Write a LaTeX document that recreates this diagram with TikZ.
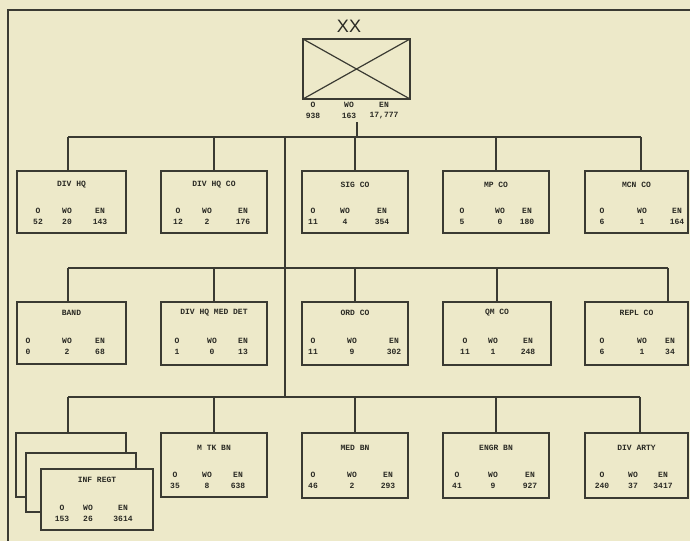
\documentclass[tikz,border=0pt]{standalone}
\usepackage{fontspec}
\setmonofont{Liberation Mono}
\newfontfamily\xxfont{Liberation Sans}
\usetikzlibrary{calc}
\definecolor{paper}{HTML}{EDE9C9}
\definecolor{ink}{HTML}{3A3A32}
\definecolor{txt}{HTML}{2A2A24}
\tikzset{
  unitbox/.style={draw=ink, line width=1.2pt, fill=paper, rectangle, inner sep=0pt, outer sep=0pt, anchor=north west},
  conn/.style={draw=ink, line width=1.2pt},
  frameline/.style={draw=ink, line width=1.5pt},
  tw/.style={text=txt, font=\ttfamily\bfseries\fontsize{8}{8}\selectfont, inner sep=0pt},
  xxlab/.style={text=txt, font=\xxfont\fontsize{18}{18}\selectfont, inner sep=0pt},
}
% name, x, y, w, h, title, title dy
\newcommand\ubox[7]{%
  \node[unitbox, minimum width=#4pt, minimum height=#5pt] (#1) at (#2,#3) {};
  \node[tw] (#1-t) at ($(#1.north)+(0,#7)$) {#6};}
% name, dy, ox, wx, ex, n1, n2, n3
\newcommand\ucounts[8]{%
  \node[tw] (#1-o)  at ($(#1.north west)+(#3,#2)$) {O};
  \node[tw] (#1-w)  at ($(#1.north west)+(#4,#2)$) {WO};
  \node[tw] (#1-e)  at ($(#1.north west)+(#5,#2)$) {EN};
  \node[tw] (#1-no) at ($(#1.north west)+(#3,#2)+(0,11)$) {#6};
  \node[tw] (#1-nw) at ($(#1.north west)+(#4,#2)+(0,11)$) {#7};
  \node[tw] (#1-ne) at ($(#1.north west)+(#5,#2)+(0,11)$) {#8};}
\begin{document}
\begin{tikzpicture}[x=1pt, y=-1pt]
\fill[paper] (0,0) rectangle (690,541);
\useasboundingbox (0,0) rectangle (690,541);
% frame
\coordinate (fr1) at (8,10);
\coordinate (fr2) at (690,10);
\coordinate (fr3) at (8,541);
\draw[frameline] (fr2) -- (fr1) -- (fr3);
% division symbol
\node[xxlab] (xxt) at (349,26) {XX};
\node[unitbox, minimum width=107pt, minimum height=60pt] (xx) at (303,39) {};
\draw[conn] (xx.north west) -- (xx.south east);
\draw[conn] (xx.south west) -- (xx.north east);
\node[tw] (xx-o) at (313,105) {O};
\node[tw] (xx-w) at (349,105) {WO};
\node[tw] (xx-e) at (384,105) {EN};
\node[tw] (xx-no) at (313,116) {938};
\node[tw] (xx-nw) at (349,116) {163};
\node[tw] (xx-ne) at (384,116) {17,777};
\coordinate (topdrop) at (357,122);
% buses
\coordinate (b1l) at (68,137);  \coordinate (b1r) at (641,137);
\coordinate (b2l) at (68,268);  \coordinate (b2r) at (668,268);
\coordinate (b3l) at (68,397);  \coordinate (b3r) at (640,397);
\coordinate (t1) at (285,137);  \coordinate (t3) at (285,397);
\draw[conn] (b1l) -- (b1r);
\draw[conn] (b2l) -- (b2r);
\draw[conn] (b3l) -- (b3r);
\draw[conn] (t1) -- (t3);
\draw[conn] (topdrop) -- (topdrop |- b1l);
% row 1
\ubox{divhq}{17}{171}{109}{62}{DIV HQ}{14}
\ucounts{divhq}{40}{21}{50}{83}{52}{20}{143}
\ubox{divhqco}{161}{171}{106}{62}{DIV HQ CO}{14}
\ucounts{divhqco}{40}{17}{46}{82}{12}{2}{176}
\ubox{sigco}{302}{171}{106}{62}{SIG CO}{14}
\ucounts{sigco}{40}{11}{43}{80}{11}{4}{354}
\ubox{mpco}{443}{171}{106}{62}{MP CO}{14}
\ucounts{mpco}{40}{19}{57}{84}{5}{0}{180}
\ubox{mcnco}{585}{171}{103}{62}{MCN CO}{14}
\ucounts{mcnco}{40}{17}{57}{92}{6}{1}{164}
% row 2
\ubox{band}{17}{302}{109}{62}{BAND}{11}
\ucounts{band}{39}{11}{50}{83}{0}{2}{68}
\ubox{medet}{161}{302}{106}{63}{DIV HQ MED DET}{11}
\ucounts{medet}{39}{16}{51}{82}{1}{0}{13}
\ubox{ordco}{302}{302}{106}{63}{ORD CO}{11}
\ucounts{ordco}{39}{11}{50}{92}{11}{9}{302}
\ubox{qmco}{443}{302}{108}{63}{QM CO}{11}
\ucounts{qmco}{39}{22}{50}{85}{11}{1}{248}
\ubox{replco}{585}{302}{103}{63}{REPL CO}{11}
\ucounts{replco}{39}{17}{57}{85}{6}{1}{34}
% row 3
\ubox{infback}{16}{433}{110}{64}{}{11}
\ubox{infmid}{26}{453}{110}{59}{}{11}
\ubox{infregt}{41}{469}{112}{61}{INF REGT}{11}
\ucounts{infregt}{39}{21}{47}{82}{153}{26}{3614}
\ubox{mtkbn}{161}{433}{106}{64}{M TK BN}{15}
\ucounts{mtkbn}{42}{14}{46}{77}{35}{8}{638}
\ubox{medbn}{302}{433}{106}{65}{MED BN}{15}
\ucounts{medbn}{42}{11}{50}{86}{46}{2}{293}
\ubox{engrbn}{443}{433}{106}{65}{ENGR BN}{15}
\ucounts{engrbn}{42}{14}{50}{87}{41}{9}{927}
\ubox{divarty}{585}{433}{103}{65}{DIV ARTY}{15}
\ucounts{divarty}{42}{17}{48}{78}{240}{37}{3417}
% drops
\draw[conn] (b1l) -- (b1l |- divhq.north);
\draw[conn] (divhqco.north) -- (divhqco.north |- b1l);
\draw[conn] (sigco.north) -- (sigco.north |- b1l);
\draw[conn] (mpco.north) -- (mpco.north |- b1l);
\draw[conn] (b1r) -- (b1r |- mcnco.north);
\draw[conn] (b2l) -- (b2l |- band.north);
\draw[conn] (medet.north) -- (medet.north |- b2l);
\draw[conn] (ordco.north) -- (ordco.north |- b2l);
\draw[conn] (qmco.north) -- (qmco.north |- b2l);
\draw[conn] (b2r) -- (b2r |- replco.north);
\draw[conn] (b3l) -- (b3l |- infback.north);
\draw[conn] (mtkbn.north) -- (mtkbn.north |- b3l);
\draw[conn] (medbn.north) -- (medbn.north |- b3l);
\draw[conn] (engrbn.north) -- (engrbn.north |- b3l);
\draw[conn] (b3r) -- (b3r |- divarty.north);
\end{tikzpicture}
\end{document}
